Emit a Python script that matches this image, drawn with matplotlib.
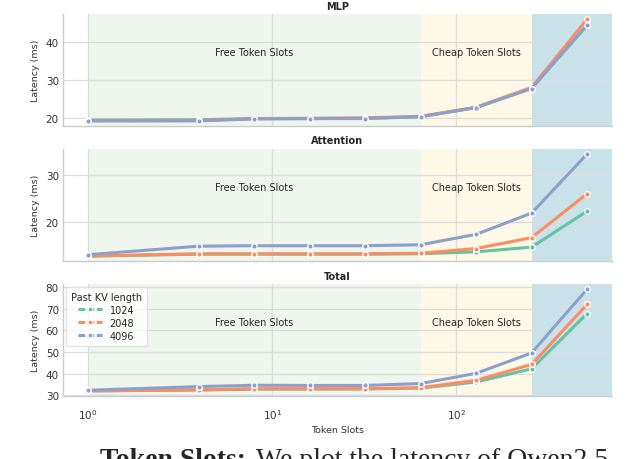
import numpy as np
import matplotlib
matplotlib.use("Agg")
from matplotlib import pyplot as plt
from matplotlib.lines import Line2D
import seaborn as sns

token_slots = [1, 4, 8, 16, 32, 64, 128, 256, 512]
kv_lengths = ["1024", "2048", "4096"]

mlp = {
    "1024": [19.4, 19.5, 19.8, 19.8, 19.9, 20.3, 22.7, 27.8, 44.3],
    "2048": [19.2, 19.3, 19.8, 19.9, 20.0, 20.4, 22.8, 28.0, 45.9],
    "4096": [19.2, 19.2, 19.7, 19.8, 19.8, 20.3, 22.7, 27.7, 44.4],
}
attention = {
    "1024": [12.8, 13.2, 13.2, 13.2, 13.2, 13.3, 13.7, 14.7, 22.3],
    "2048": [12.8, 13.3, 13.3, 13.3, 13.3, 13.4, 14.4, 16.7, 26.0],
    "4096": [13.1, 14.9, 15.0, 15.0, 15.0, 15.2, 17.4, 21.9, 34.4],
}
total = {
    "1024": [32.0, 32.4, 32.8, 32.8, 32.9, 33.3, 36.1, 42.2, 67.7],
    "2048": [32.0, 32.5, 33.0, 33.0, 33.0, 33.5, 36.9, 44.2, 71.9],
    "4096": [32.3, 34.0, 34.6, 34.5, 34.5, 35.4, 40.1, 49.5, 78.9],
}
panels = [("MLP", mlp, [20, 30, 40]),
          ("Attention", attention, [20, 30]),
          ("Total", total, [30, 40, 50, 60, 70, 80])]

free_end = 64
cheap_end = 256

sns.set_style("whitegrid")
plt.rcParams['font.family'] = ['DejaVu Sans']
colors = sns.color_palette("Set2", 3)

fig = plt.figure(figsize=(6.4, 4.6), dpi=100)
boxes = [(0.967, 0.724), (0.674, 0.430), (0.380, 0.137)]
left, right = 63 / 640, 612 / 640

lx = np.log10(token_slots)
pad = 0.05 * (lx.max() - lx.min())
xlim = (10 ** (lx.min() - pad), 10 ** (lx.max() + pad))

axes = []
for i, ((name, data, yt), (top, bot)) in enumerate(zip(panels, boxes)):
    ax = fig.add_axes([left, bot, right - left, top - bot])
    axes.append(ax)
    ax.axvspan(token_slots[0], free_end, color="#eef6ee", zorder=0, lw=0)
    ax.axvspan(free_end, cheap_end, color="#fef8e7", zorder=0, lw=0)
    ax.axvspan(cheap_end, xlim[1] * 2, color="#c9e2ea", zorder=0, lw=0)
    for c, k in zip(colors, kv_lengths):
        ax.plot(token_slots, data[k], color=c, lw=2.2, marker="o", ms=4,
                mec="white", mew=1.0, zorder=3)
    ax.set_xscale("log")
    ax.set_xlim(xlim)
    ax.set_yticks(yt)
    ax.minorticks_off()
    ax.set_axisbelow(True)
    ax.grid(True, color="#dddddd", lw=0.9)
    for s in ["top", "right"]:
        ax.spines[s].set_visible(False)
    for s in ["left", "bottom"]:
        ax.spines[s].set_color("#cccccc")
        ax.spines[s].set_linewidth(1.0)
    ax.tick_params(axis="both", labelsize=7.5, colors="#333333", length=0, pad=3)
    ax.set_ylabel("Latency (ms)", fontsize=6.8, color="#333333", labelpad=4)
    ax.set_title(name, fontsize=7, fontweight="bold", pad=4)
    ax.text(np.sqrt(token_slots[0] * free_end), 0.665, "Free Token Slots",
            transform=ax.get_xaxis_transform(), ha="center", va="center", fontsize=7)
    ax.text(np.sqrt(free_end * cheap_end), 0.665, "Cheap Token Slots",
            transform=ax.get_xaxis_transform(), ha="center", va="center", fontsize=7)
    if i < 2:
        ax.tick_params(axis="x", labelbottom=False)

axes[-1].set_xlabel("Token Slots", fontsize=6.8, color="#333333", labelpad=3)
axes[-1].tick_params(axis="x", pad=8)

handles = [Line2D([0], [0], color=c, lw=2.2, ls=(0, (2.2, 0.8)), marker="o", ms=3.5,
                  mec="white", mew=0.8) for c in colors]
leg = axes[-1].legend(handles, kv_lengths, title="Past KV length", loc="upper left",
                      fontsize=7, title_fontsize=7, frameon=True, borderpad=0.5,
                      handlelength=2.4, labelspacing=0.3, borderaxespad=0.3)
leg.get_frame().set_edgecolor("#dddddd")
leg.get_frame().set_facecolor("white")

# cropped caption below the figure
bold = fig.text(100 / 640, 0.025, "Token Slots:", fontsize=20, fontweight="bold",
                family="Liberation Serif", va="top")
fig.canvas.draw()
bb = bold.get_window_extent().transformed(fig.transFigure.inverted())
fig.text(bb.x1 + 10 / 640, 0.025, "We plot the latency of Qwen2.5", fontsize=20,
         family="Liberation Serif", va="top")

fig.savefig("out.png", dpi=100)
